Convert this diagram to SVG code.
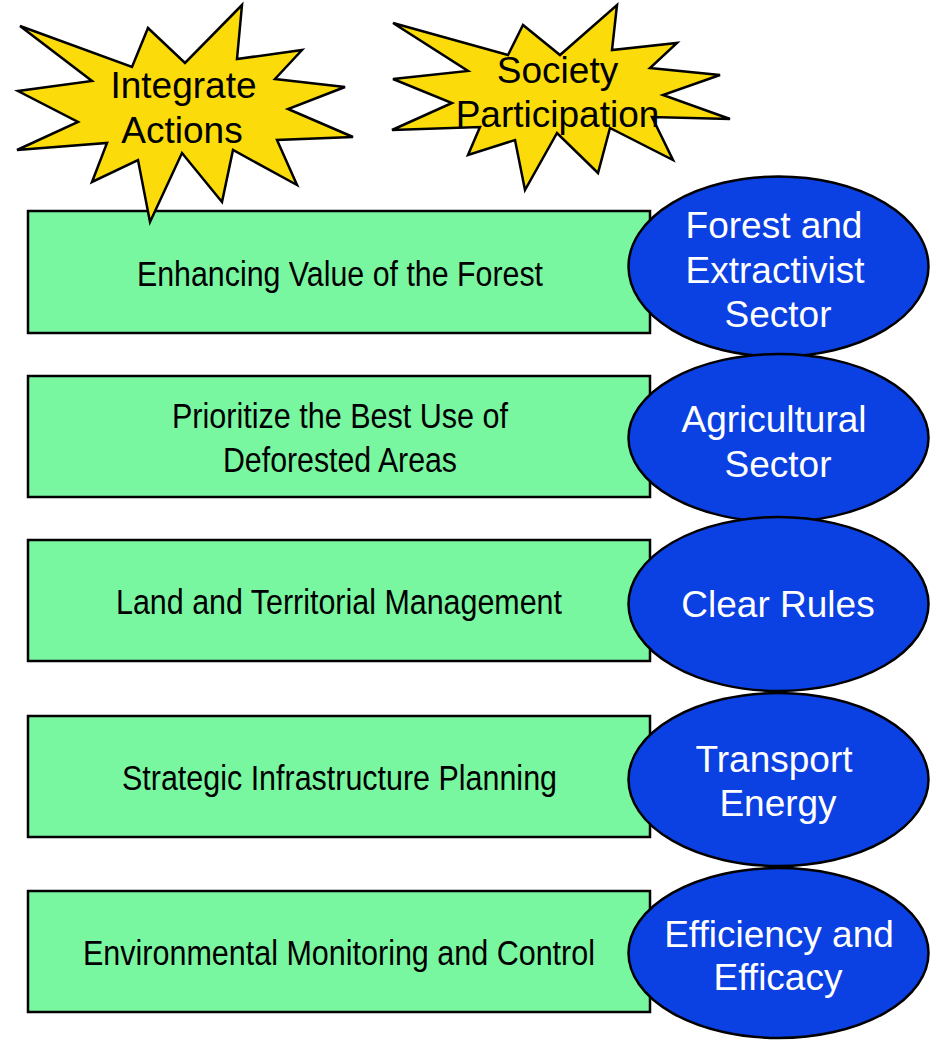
<svg xmlns="http://www.w3.org/2000/svg" width="937" height="1040" viewBox="0 0 937 1040">
  <style>
    .bar { fill: #79f7a0; stroke: #000; stroke-width: 2.5; }
    .oval { fill: #0b40e2; stroke: #000; stroke-width: 2.5; }
    .burst { fill: #fbdc0a; stroke: #000; stroke-width: 2.5; stroke-linejoin: miter; }
    .bar-label { font-family: "Liberation Sans Narrow", "Liberation Sans", Arial, sans-serif; font-size: 35.5px; fill: #000; text-anchor: middle; }
    .oval-label { font-family: "Liberation Sans", Arial, sans-serif; font-size: 37px; fill: #fff; text-anchor: middle; }
    .burst-label { font-family: "Liberation Sans", Arial, sans-serif; font-size: 37px; fill: #000; text-anchor: middle; }
  </style>
  <rect width="937" height="1040" fill="#fff"/>

  <!-- action bars -->
  <g id="bar-forest-value">
    <rect class="bar" x="28" y="211" width="622" height="122"/>
    <text class="bar-label" x="340" y="286" textLength="406" lengthAdjust="spacingAndGlyphs">Enhancing Value of the Forest</text>
  </g>
  <g id="bar-deforested-areas">
    <rect class="bar" x="28" y="376" width="622" height="121"/>
    <text class="bar-label" x="340" y="428" textLength="336" lengthAdjust="spacingAndGlyphs">Prioritize the Best Use of</text>
    <text class="bar-label" x="340" y="472" textLength="234" lengthAdjust="spacingAndGlyphs">Deforested Areas</text>
  </g>
  <g id="bar-land-management">
    <rect class="bar" x="28" y="540" width="622" height="121"/>
    <text class="bar-label" x="339" y="614" textLength="446" lengthAdjust="spacingAndGlyphs">Land and Territorial Management</text>
  </g>
  <g id="bar-infrastructure">
    <rect class="bar" x="28" y="716" width="622" height="121"/>
    <text class="bar-label" x="339.5" y="790" textLength="435" lengthAdjust="spacingAndGlyphs">Strategic Infrastructure Planning</text>
  </g>
  <g id="bar-monitoring">
    <rect class="bar" x="28" y="891" width="622" height="121"/>
    <text class="bar-label" x="339" y="965" textLength="512" lengthAdjust="spacingAndGlyphs">Environmental Monitoring and Control</text>
  </g>

  <!-- sector ovals -->
  <g id="oval-forest-sector">
    <ellipse class="oval" cx="778.5" cy="266.5" rx="150" ry="90"/>
    <text class="oval-label" x="774" y="238">Forest and</text>
    <text class="oval-label" x="775" y="283">Extractivist</text>
    <text class="oval-label" x="778" y="327">Sector</text>
  </g>
  <g id="oval-agricultural">
    <ellipse class="oval" cx="778.5" cy="438" rx="150" ry="84"/>
    <text class="oval-label" x="774" y="432">Agricultural</text>
    <text class="oval-label" x="778" y="477">Sector</text>
  </g>
  <g id="oval-clear-rules">
    <ellipse class="oval" cx="778.5" cy="604" rx="150" ry="87"/>
    <text class="oval-label" x="778" y="617">Clear Rules</text>
  </g>
  <g id="oval-transport">
    <ellipse class="oval" cx="778.5" cy="779.5" rx="150" ry="86.5"/>
    <text class="oval-label" x="774" y="772">Transport</text>
    <text class="oval-label" x="778" y="816">Energy</text>
  </g>
  <g id="oval-efficiency">
    <ellipse class="oval" cx="778.5" cy="953" rx="150" ry="85"/>
    <text class="oval-label" x="779" y="947">Efficiency and</text>
    <text class="oval-label" x="778" y="990">Efficacy</text>
  </g>

  <!-- starbursts -->
  <g id="burst-integrate">
    <polygon class="burst" points="20,26 132,67 148,28 185,63 242,5 237,59 302,50 275,79 345,87 288,109 353,137 277,140 297,185 233,150 222,202 182,153 150,222 138,160 92,182 107,143 17,150 78,122 18,91 92,81"/>
    <text class="burst-label" x="183.5" y="98">Integrate</text>
    <text class="burst-label" x="182" y="143">Actions</text>
  </g>
  <g id="burst-society">
    <polygon class="burst" points="393,23 508,55 523,25 560,55 617,5 612,50 677,43 650,68 720,75 663,95 730,119 652,117 673,160 610,128 598,173 557,133 525,190 515,140 468,155 480,127 392,130 452,103 393,79 468,71"/>
    <text class="burst-label" x="557.5" y="83">Society</text>
    <text class="burst-label" x="557.5" y="127">Participation</text>
  </g>
</svg>
